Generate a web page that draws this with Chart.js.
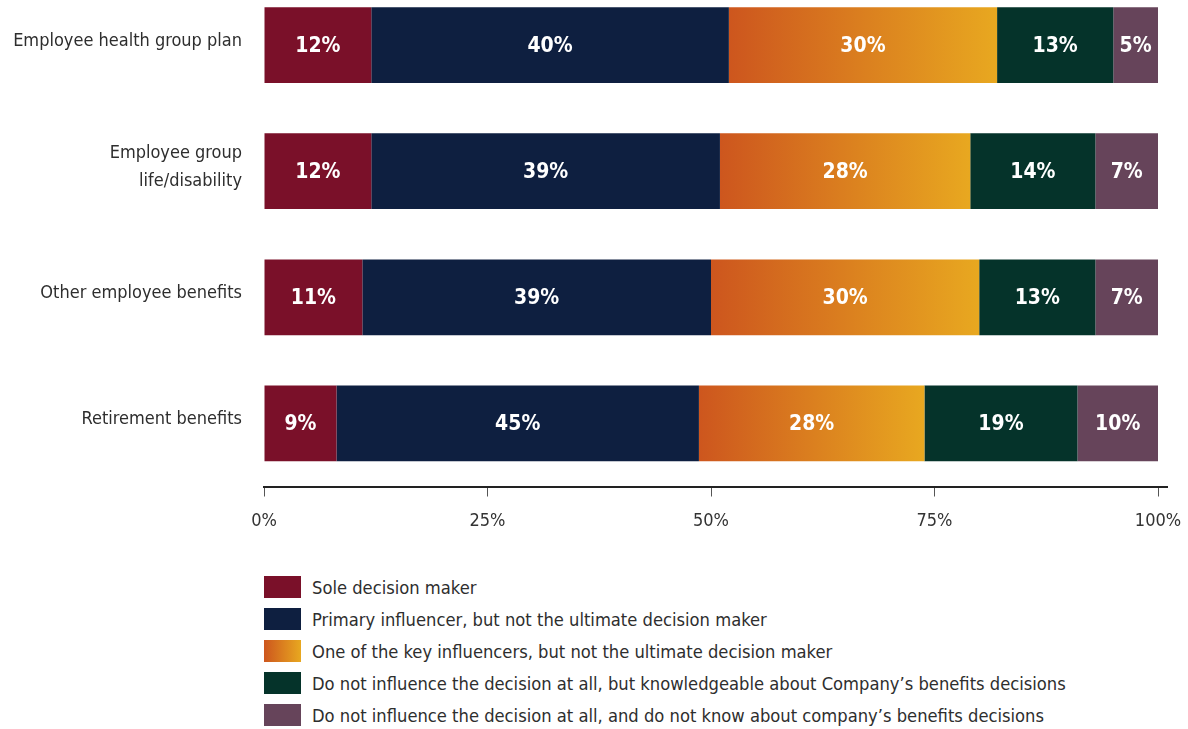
<!DOCTYPE html>
<html>
<head>
<meta charset="utf-8">
<script src="https://cdn.jsdelivr.net/npm/chart.js@4/dist/chart.umd.min.js"></script>
<style>
  html, body { margin: 0; padding: 0; background: #fff; width: 1188px; height: 729px; overflow: hidden; }
  #wrap { position: absolute; left: 0; top: -18px; width: 1188px; height: 570px; }
  #legend { position: absolute; left: 264px; top: 571px; font-family: 'Liberation Sans Narrow', 'DejaVu Sans Condensed', sans-serif; font-size: 18.2px; color: #2e2e2e; }
  .item { display: flex; align-items: center; height: 32px; }
  .sw { width: 37px; height: 22px; margin-right: 11px; flex: none; }
</style>
</head>
<body>
<div id="wrap"><canvas id="c"></canvas></div>
<div id="legend"></div>
<script>
// Benefit categories (y axis)
const categories = [
  'Employee health group plan',
  ['Employee group', 'life/disability'],
  'Other employee benefits',
  'Retirement benefits'
];

// Share of respondents by role, in percent
const soleDecisionMaker   = [12, 12, 11, 9];
const primaryInfluencer   = [40, 39, 39, 45];
const keyInfluencer       = [30, 28, 30, 28];
const notInfluenceKnows   = [13, 14, 13, 19];
const notInfluenceUnaware = [5, 7, 7, 10];

const seriesLabels = [
  'Sole decision maker',
  'Primary influencer, but not the ultimate decision maker',
  'One of the key influencers, but not the ultimate decision maker',
  'Do not influence the decision at all, but knowledgeable about Company\u2019s benefits decisions',
  'Do not influence the decision at all, and do not know about company\u2019s benefits decisions'
];

const xTicks = [0, 25, 50, 75, 100];

const series = [soleDecisionMaker, primaryInfluencer, keyInfluencer, notInfluenceKnows, notInfluenceUnaware];

// 100% stacked: each row is scaled to its own total
const rowTotals = categories.map((_, i) => series.reduce((s, arr) => s + arr[i], 0));
const asShare = arr => arr.map((v, i) => v / rowTotals[i] * 100);

const FONT = "'Liberation Sans Narrow', 'DejaVu Sans Condensed', sans-serif";
const GRAD_FROM = '#cd561e', GRAD_TO = '#e8a820';

function keyInfluencerFill(ctx) {
  const chart = ctx.chart;
  if (ctx.type !== 'data' || !chart.chartArea || !chart.scales.x) return '#dc8020';
  const i = ctx.dataIndex;
  let start = 0;
  for (let d = 0; d < ctx.datasetIndex; d++) start += chart.data.datasets[d].data[i];
  const end = start + chart.data.datasets[ctx.datasetIndex].data[i];
  const x0 = chart.scales.x.getPixelForValue(start);
  const x1 = chart.scales.x.getPixelForValue(end);
  const g = chart.ctx.createLinearGradient(x0, 0, x1, 0);
  g.addColorStop(0, GRAD_FROM);
  g.addColorStop(1, GRAD_TO);
  return g;
}

const colors = ['#7a1029', '#0e1f40', keyInfluencerFill, '#05332a', '#66445a'];

const datasets = series.map((arr, k) => ({
  label: seriesLabels[k],
  data: asShare(arr),
  raw: arr,
  backgroundColor: colors[k],
  borderWidth: 0,
  categoryPercentage: 0.6,
  barPercentage: 1
}));

// White value labels centred in each segment
const segmentLabels = {
  id: 'segmentLabels',
  afterDatasetsDraw(chart) {
    const ctx = chart.ctx;
    ctx.save();
    ctx.fillStyle = '#ffffff';
    ctx.font = "bold 21px " + FONT;
    ctx.textAlign = 'center';
    ctx.textBaseline = 'middle';
    chart.data.datasets.forEach((ds, d) => {
      chart.getDatasetMeta(d).data.forEach((el, i) => {
        ctx.fillText(ds.raw[i] + '%', (el.x + el.base) / 2, el.y + 1);
      });
    });
    ctx.restore();
  }
};

// Baseline of the value axis, running slightly past 100%
const axisLine = {
  id: 'axisLine',
  afterDraw(chart) {
    const { left, right, bottom } = chart.chartArea;
    const ctx = chart.ctx;
    ctx.save();
    ctx.strokeStyle = '#222';
    ctx.lineWidth = 2;
    ctx.beginPath();
    ctx.moveTo(left - 1, bottom + 0.5);
    ctx.lineTo(right + 10, bottom + 0.5);
    ctx.stroke();
    ctx.restore();
  }
};

new Chart(document.getElementById('c'), {
  type: 'bar',
  data: { labels: categories, datasets },
  options: {
    indexAxis: 'y',
    responsive: true,
    maintainAspectRatio: false,
    animation: false,
    layout: { autoPadding: false, padding: { top: 0, right: 30, bottom: 0, left: 0 } },
    plugins: { legend: { display: false }, tooltip: { enabled: false } },
    scales: {
      x: {
        stacked: true,
        min: 0,
        max: 100,
        afterBuildTicks: s => { s.ticks = xTicks.map(v => ({ value: v })); },
        afterFit: s => { s.height = 65.5; s.paddingLeft = 0; s.paddingRight = 0; },
        grid: { drawOnChartArea: false, drawTicks: true, tickLength: 10, color: '#555', lineWidth: 1 },
        border: { display: false },
        ticks: {
          callback: v => v + '%',
          color: '#333',
          padding: 14,
          maxRotation: 0,
          font: { family: FONT, size: 18 }
        }
      },
      y: {
        stacked: true,
        afterFit: s => { s.width = 264; s.paddingTop = 0; s.paddingBottom = 0; },
        grid: { display: false, drawTicks: false },
        border: { display: false },
        ticks: {
          color: '#2e2e2e',
          padding: 22,
          labelOffset: -4,
          font: { family: FONT, size: 18, lineHeight: 1.55 }
        }
      }
    }
  },
  plugins: [segmentLabels, axisLine]
});

// Legend list built from the dataset labels
const legend = document.getElementById('legend');
seriesLabels.forEach((label, k) => {
  const row = document.createElement('div');
  row.className = 'item';
  const sw = document.createElement('span');
  sw.className = 'sw';
  sw.style.background = typeof colors[k] === 'string'
    ? colors[k]
    : 'linear-gradient(to right, ' + GRAD_FROM + ', ' + GRAD_TO + ')';
  const tx = document.createElement('span');
  tx.textContent = label;
  row.appendChild(sw);
  row.appendChild(tx);
  legend.appendChild(row);
});
</script>
</body>
</html>
